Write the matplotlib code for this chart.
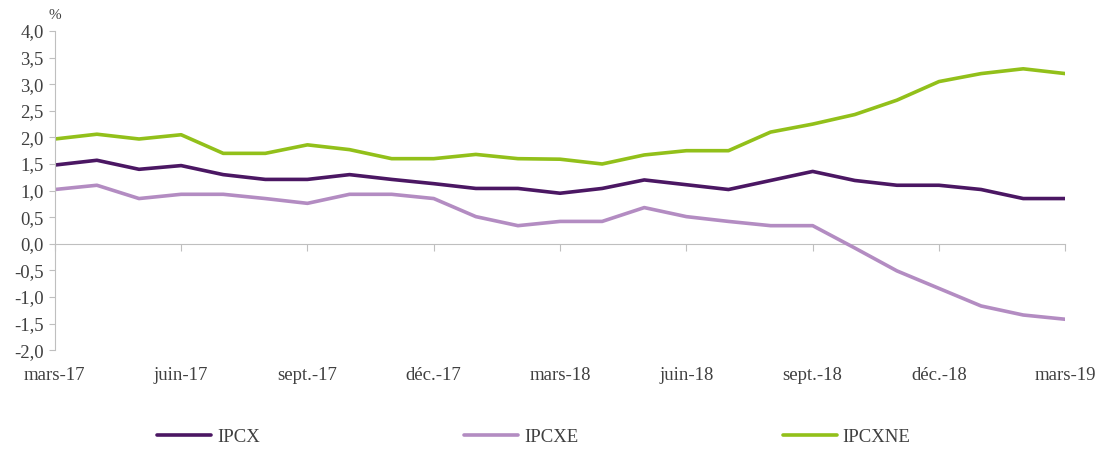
import matplotlib
matplotlib.use("Agg")
import matplotlib.pyplot as plt
import numpy as np

months = ["mars-17", "avr.-17", "mai-17", "juin-17", "juil.-17", "août-17", "sept.-17", "oct.-17",
          "nov.-17", "déc.-17", "janv.-18", "févr.-18", "mars-18", "avr.-18", "mai-18", "juin-18",
          "juil.-18", "août-18", "sept.-18", "oct.-18", "nov.-18", "déc.-18", "janv.-19", "févr.-19",
          "mars-19"]
ipcx = [1.48, 1.57, 1.40, 1.47, 1.30, 1.21, 1.21, 1.30, 1.21, 1.13, 1.04, 1.04, 0.95, 1.04,
        1.20, 1.11, 1.02, 1.19, 1.36, 1.19, 1.10, 1.10, 1.02, 0.85, 0.85]
ipcxe = [1.02, 1.10, 0.85, 0.93, 0.93, 0.85, 0.76, 0.93, 0.93, 0.85, 0.51, 0.34, 0.42, 0.42,
         0.68, 0.51, 0.42, 0.34, 0.34, -0.08, -0.51, -0.84, -1.17, -1.34, -1.42]
ipcxne = [1.97, 2.06, 1.97, 2.05, 1.70, 1.70, 1.86, 1.77, 1.60, 1.60, 1.68, 1.60, 1.59, 1.50,
          1.67, 1.75, 1.75, 2.10, 2.25, 2.43, 2.70, 3.05, 3.20, 3.29, 3.20]
series_names = ["IPCX", "IPCXE", "IPCXNE"]
colors = ["#4B1763", "#B38CC2", "#92C01A"]
yticks = np.arange(-2.0, 4.01, 0.5)

plt.rcParams['font.family'] = ['Liberation Serif', 'DejaVu Serif']
fig = plt.figure(figsize=(10.96, 4.5), dpi=100)
ax = fig.add_axes([0.050, 0.222, 0.922, 0.709])

x = np.arange(len(months))
for vals, name, c in zip([ipcx, ipcxe, ipcxne], series_names, colors):
    ax.plot(x, vals, color=c, lw=2.6, label=name, solid_capstyle='round')

ax.set_xlim(0, len(months) - 1)
ax.set_ylim(-2.0, 4.0)
ax.set_yticks(yticks)
ax.set_yticklabels([f"{v:.1f}".replace(".", ",") for v in yticks], fontsize=13.5, color="#404040")
tick_idx = x[::3]
ax.set_xticks(tick_idx)
ax.set_xticklabels([months[i] for i in tick_idx], fontsize=13.5, color="#404040")
ax.tick_params(axis='x', length=0, pad=12)
ax.tick_params(axis='y', length=4, color="#BFBFBF", pad=4)
for s in ["top", "right", "bottom"]:
    ax.spines[s].set_visible(False)
ax.spines["left"].set_color("#BFBFBF")

# zero axis with tick marks
sec = ax.secondary_xaxis(1/3)
sec.set_xticks(tick_idx)
sec.tick_params(axis='x', length=5, color="#BFBFBF", labelbottom=False, direction='out')
sec.spines["bottom"].set_color("#BFBFBF")

fig.text(0.050, 0.965, "%", fontsize=11, color="#404040", ha='center', va='center')

fig.legend(loc='center', bbox_to_anchor=(0.487, 0.028), ncol=3, frameon=False,
           fontsize=13.5, handlelength=2.9, columnspacing=10.9, handletextpad=0.3,
           labelcolor="#404040")

fig.savefig("out.png", dpi=100)
